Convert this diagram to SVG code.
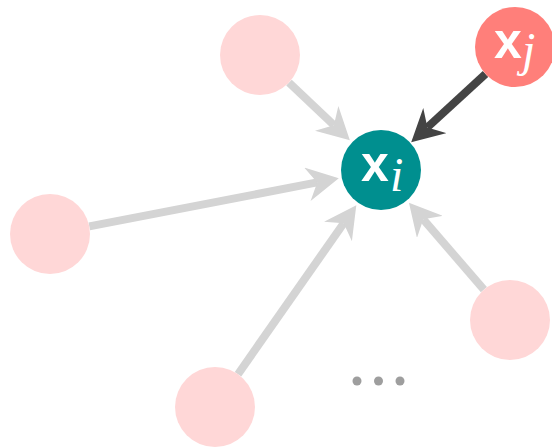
<svg xmlns="http://www.w3.org/2000/svg" width="552" height="448" viewBox="0 0 552 448">
<style>
.nb{fill:#ffd7d7}
.e{stroke:#d4d4d4;stroke-width:8;fill:none}
.ed{stroke:#444444;stroke-width:8;fill:none}
.xs{font-family:'Liberation Sans',Arial,sans-serif;font-weight:bold;font-size:50px;fill:#ffffff}
.sub{font-family:'Liberation Serif','Times New Roman',serif;font-style:italic;font-size:48px;fill:#ffffff}
.dot{fill:#9e9e9e}
</style>
<defs>
<marker id="ag" markerUnits="userSpaceOnUse" viewBox="-10 -17 32 34" refX="0" refY="0" markerWidth="32" markerHeight="34" orient="auto"><path d="M-10,-17 L22,0 L-10,17 L0,0 Z" fill="#d4d4d4"/></marker>
<marker id="ad" markerUnits="userSpaceOnUse" viewBox="-10 -17 32 34" refX="0" refY="0" markerWidth="32" markerHeight="34" orient="auto"><path d="M-10,-17 L22,0 L-10,17 L0,0 Z" fill="#444444"/></marker>
</defs>
<g id="connectors">
<line class="e" x1="289" y1="82.6" x2="333.9" y2="125.2" marker-end="url(#ag)"/>
<line class="e" x1="89.3" y1="226.4" x2="317.2" y2="182.4" marker-end="url(#ag)"/>
<line class="e" x1="238" y1="374.2" x2="343.7" y2="223.2" marker-end="url(#ag)"/>
<line class="e" x1="483.9" y1="289.7" x2="423.3" y2="219.3" marker-end="url(#ag)"/>
<line class="ed" x1="485.5" y1="74" x2="427.4" y2="127.4" marker-end="url(#ad)"/>
</g>
<g id="n-top"><circle class="nb" cx="260" cy="55" r="40"/></g>
<g id="n-left"><circle class="nb" cx="50" cy="234" r="40"/></g>
<g id="n-bottom"><circle class="nb" cx="215" cy="407" r="40"/></g>
<g id="n-right"><circle class="nb" cx="510" cy="320" r="40"/></g>
<g id="n-xi"><circle cx="381" cy="170" r="40" fill="#008f8f"/><text class="xs" x="361" y="181">x</text><text class="sub" x="390" y="191">i</text></g>
<g id="n-xj"><circle cx="515" cy="47" r="40" fill="#ff7f7a"/><text class="xs" x="494" y="58">x</text><text class="sub" x="522" y="66">j</text></g>
<g id="dots"><circle class="dot" cx="357" cy="381" r="4.5"/><circle class="dot" cx="378.5" cy="381" r="4.5"/><circle class="dot" cx="400" cy="381" r="4.5"/></g>
</svg>
